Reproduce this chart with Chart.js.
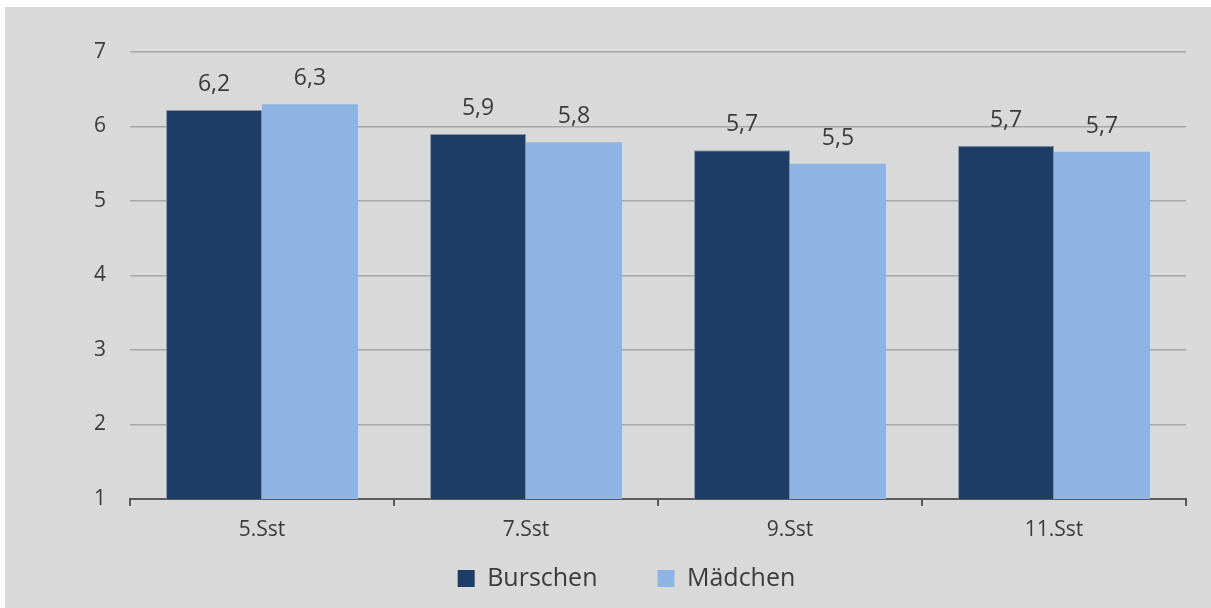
<!DOCTYPE html>
<html lang="de">
<head>
  <meta charset="UTF-8">
  <title>Burschen / Mädchen</title>
  <script src="https://cdn.jsdelivr.net/npm/chart.js"></script>
  <style>
    body { margin: 0; background: #fff; }
    .box { position: absolute; left: 5px; top: 7px; width: 1206px; height: 601px; background: #d9d9d9; }
  </style>
</head>
<body>
  <div class="box"><canvas id="chart"></canvas></div>

  <script>
    const stufen = ["5.Sst", "7.Sst", "9.Sst", "11.Sst"];
    const burschen = [6.22, 5.90, 5.68, 5.74];
    const maedchen = [6.30, 5.79, 5.50, 5.66];
    const yTicks = [1, 2, 3, 4, 5, 6, 7];

    const textColor = "#3b3b3b";
    const fontFamily = "'Open Sans', 'Noto Sans', sans-serif";

    // value labels above bars, German comma
    const valueLabels = {
      id: "valueLabels",
      afterDatasetsDraw(chart) {
        const ctx = chart.ctx;
        ctx.save();
        ctx.font = "23px " + fontFamily;
        ctx.fillStyle = textColor;
        ctx.textAlign = "center";
        ctx.textBaseline = "alphabetic";
        chart.data.datasets.forEach((ds, i) => {
          chart.getDatasetMeta(i).data.forEach((bar, j) => {
            const txt = ds.data[j].toFixed(1).replace(".", ",");
            ctx.fillText(txt, bar.x, bar.y - 19);
          });
        });
        ctx.restore();
      }
    };

    new Chart(document.getElementById("chart"), {
      type: "bar",
      data: {
        labels: stufen,
        datasets: [
          { label: "Burschen", data: burschen, backgroundColor: "#1d3c66", borderColor: "#8592a6", borderWidth: 1 },
          { label: "Mädchen", data: maedchen, backgroundColor: "#8eb4e3" }
        ]
      },
      options: {
        responsive: true,
        maintainAspectRatio: false,
        animation: false,
        categoryPercentage: 0.727,
        barPercentage: 1,
        layout: { padding: { top: 45, right: 25, bottom: 7, left: 62 } },
        plugins: {
          tooltip: { enabled: false },
          legend: {
            position: "bottom",
            labels: {
              color: textColor,
              font: { family: fontFamily, size: 25 },
              boxWidth: 17,
              boxHeight: 17,
              padding: 10,
              generateLabels(chart) {
                const items = Chart.defaults.plugins.legend.labels.generateLabels(chart);
                // wider gap between the two entries
                return items.map((it, i) => {
                  it.lineWidth = 0;
                  if (i < items.length - 1) it.text = it.text + "\u2003\u2003";
                  return it;
                });
              }
            }
          }
        },
        scales: {
          x: {
            afterFit(scale) { scale.height = 57; },
            grid: { drawOnChartArea: false, drawTicks: true, tickLength: 7, color: "#595959", lineWidth: 2 },
            border: { color: "#595959", width: 2 },
            ticks: { color: textColor, font: { family: fontFamily, size: 21 }, padding: 11 }
          },
          y: {
            min: 1,
            max: 7,
            afterFit(scale) { scale.width = 63; },
            afterBuildTicks(scale) { scale.ticks = yTicks.map(v => ({ value: v })); },
            grid: { color: "#a6a6a6", lineWidth: 1.5, drawTicks: false },
            border: { display: false },
            ticks: { color: textColor, font: { family: fontFamily, size: 21 }, padding: 24 }
          }
        }
      },
      plugins: [valueLabels]
    });
  </script>
</body>
</html>
